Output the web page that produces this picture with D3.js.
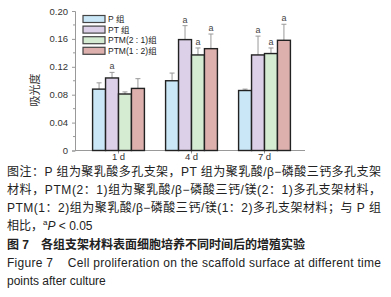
<!DOCTYPE html>
<html lang="zh">
  <head>
    <meta charset="UTF-8" />
    <title>Figure 7</title>
    <style>
      body { margin: 0; background: #fff; }
      svg { display: block; }
      text { font-family: "Liberation Sans", Arial, "Noto Sans CJK SC", sans-serif; }
      .cap { font-size: 12px; fill: #222; }
      .pre { white-space: pre; }
    </style>
  </head>
  <body>
    <div class="container"></div>
    <script src="https://cdn.jsdelivr.net/npm/d3@7"></script>
    <script>
      // data
      const days = ["1 d", "4 d", "7 d"];
      const groups = ["P 组", "PT 组", "PTM(2 : 1)组", "PTM(1 : 2)组"];
      const colors = ["#c9e7f7", "#dccfe8", "#d5ecd3", "#ddb0ae"];
      // mean per group, one row per day
      const means = [
        [0.088, 0.104, 0.081, 0.089],
        [0.100, 0.159, 0.137, 0.146],
        [0.086, 0.137, 0.139, 0.158],
      ];
      const errs = [
        [0.009, 0.008, 0.003, 0.014],
        [0.011, 0.020, 0.010, 0.021],
        [0.002, 0.027, 0.008, 0.023],
      ];
      // "a" = P < 0.05 vs P group
      const sig = [
        [false, true, false, false],
        [false, true, true, true],
        [false, true, true, true],
      ];
      const yTicks = [0, 0.04, 0.08, 0.12, 0.16, 0.2];
      const yMinor = [0.02, 0.06, 0.1, 0.14, 0.18];

      const svg = d3.select(".container").append("svg")
        .attr("width", 391).attr("height", 297);

      const x0 = d3.scaleBand().domain(days).range([82, 301])
        .paddingInner(0.29).paddingOuter(0.145);
      const x1 = d3.scaleBand().domain(d3.range(groups.length))
        .range([0, x0.bandwidth()]);
      const y = d3.scaleLinear().domain([0, 0.2]).range([150.5, 11]);

      // y axis
      const yAxis = svg.append("g").attr("transform", "translate(75,0)")
        .call(d3.axisLeft(y).tickValues(yTicks).tickSize(3).tickPadding(4)
          .tickFormat((d) => (d === 0 ? "0" : d3.format(".2f")(d))));
      yAxis.append("g").selectAll("line").data(yMinor).join("line")
        .attr("x1", -2).attr("x2", 0)
        .attr("y1", (d) => y(d)).attr("y2", (d) => y(d));
      yAxis.selectAll("line, path").attr("stroke", "#999");
      yAxis.selectAll("text").attr("font-size", 9.5).attr("fill", "#333");

      // x axis
      const xAxis = svg.append("g").attr("transform", "translate(0,150.5)");
      xAxis.append("line").attr("x1", 75).attr("x2", 305).attr("stroke", "#999");
      xAxis.selectAll(".tk").data(days).join("line").attr("class", "tk")
        .attr("x1", (d) => x0(d) + x0.bandwidth() / 2)
        .attr("x2", (d) => x0(d) + x0.bandwidth() / 2)
        .attr("y1", 0).attr("y2", 3).attr("stroke", "#999");
      xAxis.selectAll("text").data(days).join("text")
        .attr("x", (d) => x0(d) + x0.bandwidth() / 2)
        .attr("y", 9)
        .attr("text-anchor", "middle")
        .attr("font-size", 9.5).attr("fill", "#333")
        .text((d) => d);

      // y label
      svg.append("text")
        .attr("transform", "translate(39,90) rotate(-90)")
        .attr("text-anchor", "middle")
        .attr("font-size", 11).attr("fill", "#333")
        .text("吸光度");

      // bars
      const rows = means.flatMap((r, i) =>
        r.map((v, j) => ({ day: days[i], g: j, v, e: errs[i][j], s: sig[i][j] }))
      );
      const bx = (d) => x0(d.day) + x1(d.g);
      const bw = x1.bandwidth();

      // error bars (upper only)
      const eb = svg.append("g").attr("stroke", "#999").attr("stroke-width", 1);
      eb.selectAll(".v").data(rows).join("line").attr("class", "v")
        .attr("x1", (d) => bx(d) + bw / 2).attr("x2", (d) => bx(d) + bw / 2)
        .attr("y1", (d) => y(d.v)).attr("y2", (d) => y(d.v + d.e));
      eb.selectAll(".c").data(rows).join("line").attr("class", "c")
        .attr("x1", (d) => bx(d) + bw / 2 - 2.5).attr("x2", (d) => bx(d) + bw / 2 + 2.5)
        .attr("y1", (d) => y(d.v + d.e)).attr("y2", (d) => y(d.v + d.e));

      svg.append("g").selectAll("rect").data(rows).join("rect")
        .attr("x", bx).attr("width", bw)
        .attr("y", (d) => y(d.v))
        .attr("height", (d) => y(0) - y(d.v))
        .attr("fill", (d) => colors[d.g])
        .attr("stroke", "#222").attr("stroke-width", 1.4);

      svg.append("g").selectAll("text").data(rows.filter((d) => d.s)).join("text")
        .attr("x", (d) => bx(d) + bw / 2)
        .attr("y", (d) => y(d.v + d.e) - 3)
        .attr("text-anchor", "middle")
        .attr("font-size", 9).attr("fill", "#444")
        .text("a");

      // legend
      const lg = svg.append("g").attr("transform", "translate(83,15.5)");
      const li = lg.selectAll("g").data(groups).join("g")
        .attr("transform", (d, i) => `translate(0,${i * 10.6})`);
      li.append("rect").attr("width", 22).attr("height", 7)
        .attr("fill", (d, i) => colors[i]).attr("stroke", "#444").attr("stroke-width", 1.2);
      li.append("text").attr("x", 25).attr("y", 6.5).attr("class", "pre")
        .attr("font-size", 8.5).attr("fill", "#222").text((d) => d);

      // caption
      const cap = svg.append("g").attr("class", "cap");
      const capLines = [
        "图注：P 组为聚乳酸多孔支架，PT 组为聚乳酸/β−磷酸三钙多孔支架",
        "材料，PTM(2：1)组为聚乳酸/β−磷酸三钙/镁(2：1)多孔支架材料，",
        "PTM(1：2)组为聚乳酸/β−磷酸三钙/镁(1：2)多孔支架材料；与 P 组",
      ];
      capLines.forEach((t, i) => {
        cap.append("text").attr("x", 7).attr("y", 176 + i * 18)
          .attr("textLength", 374).attr("lengthAdjust", "spacing").text(t);
      });
      const l4 = cap.append("text").attr("x", 7).attr("y", 230);
      l4.append("tspan").text("相比，");
      l4.append("tspan").attr("font-size", 8).attr("dy", -5).text("a");
      l4.append("tspan").attr("font-style", "italic").attr("dy", 5).text("P");
      l4.append("tspan").text(" < 0.05");

      cap.append("text").attr("x", 7).attr("y", 249)
        .attr("font-weight", "bold")
        .text("图 7　各组支架材料表面细胞培养不同时间后的增殖实验");
      cap.append("text").attr("x", 7).attr("y", 267).attr("class", "pre")
        .attr("textLength", 374).attr("lengthAdjust", "spacing")
        .text("Figure 7    Cell proliferation on the scaffold surface at different time");
      cap.append("text").attr("x", 7).attr("y", 285)
        .text("points after culture");
    </script>
  </body>
</html>
